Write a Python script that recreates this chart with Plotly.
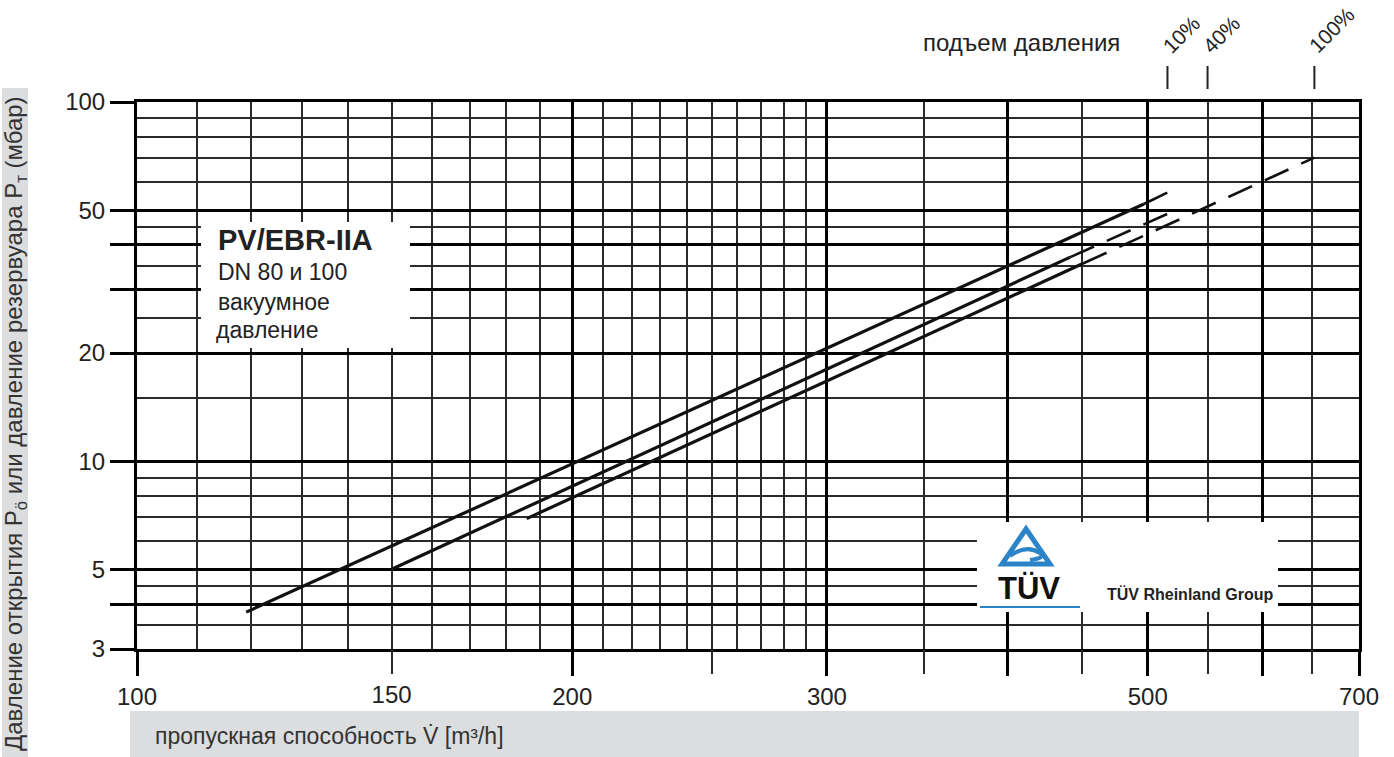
import numpy as np
import plotly.graph_objects as go

# ---------------- data ----------------
# flow [m3/h] and pressure [mbar]
top_flow = [119, 497]
top_p = [3.8, 52.0]
top_ext_flow = [497, 516]
top_ext_p = [52.0, 56.0]

mid_flow = [150, 442]
mid_p = [5.0, 37.0]
mid_ext_flow = [442, 523]
mid_ext_p = [37.0, 50.0]

low_flow = [186, 451]
low_p = [6.92, 35.5]
low_ext_flow = [451, 652]
low_ext_p = [35.5, 70.0]

rise_labels = ["10%", "40%", "100%"]
rise_flow = [516, 550, 652]

x_major = [100, 200, 300, 400, 500, 600, 700]
x_major_text = ["100", "200", "300", "", "500", "", "700"]
x_mid = [150, 250, 350, 450, 550, 650]
x_mid_text = ["150", "", "", "", "", ""]
x_minor = [110, 120, 130, 140, 150, 160, 170, 180, 190,
           210, 220, 230, 240, 250, 260, 270, 280, 290,
           350, 450, 550, 650]

y_major = [3, 4, 5, 10, 20, 30, 40, 50, 100]
y_major_text = ["3", "", "5", "10", "20", "", "", "50", "100"]
y_minor = [3.5, 4.5, 6, 7, 8, 9, 15, 25, 35, 45, 60, 70, 80, 90]

# ---------------- layout helpers ----------------
W, H = 1394, 757
L, R, T, B = 137, 35, 102, 108
PW, PH = W - L - R, H - T - B


def px(x):
    return (x - L) / PW


def py(y):
    return (H - B - y) / PH


FONT = "Liberation Sans, Arial, Helvetica, sans-serif"
BLUE = "#2b84c8"

fig = go.Figure()

solid = dict(color="#111111", width=3.2)
dashed = dict(color="#111111", width=2.6, dash="26px,14px")

for fx, fp in [(top_flow, top_p), (mid_flow, mid_p), (low_flow, low_p)]:
    fig.add_trace(go.Scatter(x=fx, y=fp, mode="lines", line=solid,
                             showlegend=False, hoverinfo="skip"))
for fx, fp in [(top_ext_flow, top_ext_p), (mid_ext_flow, mid_ext_p),
               (low_ext_flow, low_ext_p)]:
    fig.add_trace(go.Scatter(x=fx, y=fp, mode="lines", line=dashed,
                             showlegend=False, hoverinfo="skip"))

# invisible trace to activate the overlay axis (medium ticks)
fig.add_trace(go.Scatter(x=[x_major[0]], y=[y_major[0]], xaxis="x2", yaxis="y",
                         mode="markers", marker=dict(opacity=0),
                         showlegend=False, hoverinfo="skip"))

xr = [np.log10(x_major[0]), np.log10(x_major[-1])]
yr = [np.log10(y_major[0]), np.log10(y_major[-1])]

tickfont = dict(family=FONT, size=24, color="#222222")

fig.update_layout(
    width=W, height=H,
    margin=dict(l=L, r=R, t=T, b=B),
    paper_bgcolor="white", plot_bgcolor="white",
    xaxis=dict(type="log", range=xr, tickmode="array", tickvals=x_major,
               ticktext=x_major_text, ticks="outside", ticklen=24, tickwidth=3,
               tickcolor="black", showgrid=True, gridcolor="black", gridwidth=3,
               showline=True, linewidth=3, linecolor="black", mirror=True,
               zeroline=False, tickfont=tickfont,
               minor=dict(tickmode="array", tickvals=x_minor, showgrid=True,
                          gridcolor="#2a2a2a", gridwidth=1.6, ticks="")),
    xaxis2=dict(type="log", range=xr, overlaying="x", anchor="y", side="bottom",
                tickmode="array", tickvals=x_mid, ticktext=x_mid_text,
                ticks="outside", ticklen=24, tickwidth=1.6, tickcolor="#2a2a2a",
                showgrid=False, showline=False, zeroline=False, tickfont=tickfont),
    yaxis=dict(type="log", range=yr, tickmode="array", tickvals=y_major,
               ticktext=y_major_text, ticks="outside", ticklen=24, tickwidth=3,
               tickcolor="black", showgrid=True, gridcolor="black", gridwidth=3,
               showline=True, linewidth=3, linecolor="black", mirror=True,
               zeroline=False, tickfont=tickfont,
               minor=dict(tickmode="array", tickvals=y_minor, showgrid=True,
                          gridcolor="#2a2a2a", gridwidth=1.6, ticks="")),
)

shapes = []
# y title grey band
shapes.append(dict(type="rect", xref="paper", yref="paper",
                   x0=px(2), x1=px(28), y0=py(757), y1=py(88),
                   fillcolor="#dcdddf", line=dict(width=0), layer="above"))
# x title grey band
shapes.append(dict(type="rect", xref="paper", yref="paper",
                   x0=px(130), x1=px(1359), y0=py(757), y1=py(711),
                   fillcolor="#dcdddf", line=dict(width=0), layer="above"))
# PV box
shapes.append(dict(type="rect", xref="paper", yref="paper",
                   x0=px(201), x1=px(410), y0=py(348), y1=py(222),
                   fillcolor="white", line=dict(width=0), layer="above"))
# TUV box
shapes.append(dict(type="rect", xref="paper", yref="paper",
                   x0=px(977), x1=px(1278), y0=py(612), y1=py(522),
                   fillcolor="white", line=dict(width=0), layer="above"))
# TUV triangle logo
tri = "M {:.4f},{:.4f} L {:.4f},{:.4f} L {:.4f},{:.4f} Z".format(
    px(1026), py(529), px(1050), py(564), px(1002), py(564))
shapes.append(dict(type="path", xref="paper", yref="paper", path=tri,
                   line=dict(color=BLUE, width=5), fillcolor="rgba(0,0,0,0)",
                   layer="above"))
wave = "M {:.4f},{:.4f} Q {:.4f},{:.4f} {:.4f},{:.4f} Q {:.4f},{:.4f} {:.4f},{:.4f}".format(
    px(1010), py(556), px(1026), py(544), px(1040), py(553),
    px(1046), py(558), px(1030), py(560))
shapes.append(dict(type="path", xref="paper", yref="paper", path=wave,
                   line=dict(color=BLUE, width=4), layer="above"))
shapes.append(dict(type="line", xref="paper", yref="paper",
                   x0=px(980), x1=px(1080), y0=py(607), y1=py(607),
                   line=dict(color=BLUE, width=2), layer="above"))
# pressure-rise ticks above the chart
for v in rise_flow:
    shapes.append(dict(type="line", xref="x", yref="paper", x0=v, x1=v,
                       y0=py(89), y1=py(66), line=dict(color="#222222", width=2)))
fig.update_layout(shapes=shapes)

ann = []
ann.append(dict(xref="paper", yref="paper", x=px(15), y=py(424),
                text="Давление открытия P<sub>ö</sub> или давление резервуара P<sub>т</sub> (мбар)",
                textangle=-90, showarrow=False, xanchor="center", yanchor="middle",
                font=dict(family=FONT, size=24, color="#333333")))
ann.append(dict(xref="paper", yref="paper", x=px(153), y=py(736),
                text="пропускная способность V\u0307 [m³/h]", showarrow=False,
                xanchor="left", yanchor="middle",
                font=dict(family=FONT, size=23, color="#333333")))
ann.append(dict(xref="paper", yref="paper", x=px(1122), y=py(43),
                text="подъем давления", showarrow=False,
                xanchor="right", yanchor="middle",
                font=dict(family=FONT, size=24, color="#222222")))
for lab, v in zip(rise_labels, rise_flow):
    ann.append(dict(xref="x", yref="paper", x=np.log10(v), y=py(60),
                    text=lab, textangle=-45, showarrow=False, xshift=-12,
                    xanchor="left", yanchor="bottom",
                    font=dict(family=FONT, size=21, color="#222222")))
# PV box text
ann.append(dict(xref="paper", yref="paper", x=px(216), y=py(240),
                text="<b>PV/EBR-IIA</b>", showarrow=False, xanchor="left",
                yanchor="middle", font=dict(family=FONT, size=29, color="#222222")))
for txt, yy, xx in [("DN 80 и 100", 272, 216), ("вакуумное", 302, 216),
                    ("давление", 330, 214)]:
    ann.append(dict(xref="paper", yref="paper", x=px(xx), y=py(yy), text=txt,
                    showarrow=False, xanchor="left", yanchor="middle",
                    font=dict(family=FONT, size=23, color="#222222")))
# TUV text
ann.append(dict(xref="paper", yref="paper", x=px(1029), y=py(588),
                text="<b>TÜV</b>", showarrow=False, xanchor="center",
                yanchor="middle", font=dict(family=FONT, size=31, color="#111111")))
ann.append(dict(xref="paper", yref="paper", x=px(1105), y=py(594),
                text="<b>TÜV Rheinland Group</b>", showarrow=False, xanchor="left",
                yanchor="middle", font=dict(family=FONT, size=16, color="#222222")))
fig.update_layout(annotations=ann)

fig.write_html("out.html",
               config={"displayModeBar": False},
               post_script="document.body.style.margin='0';"
                           "document.body.style.overflow='hidden';")
